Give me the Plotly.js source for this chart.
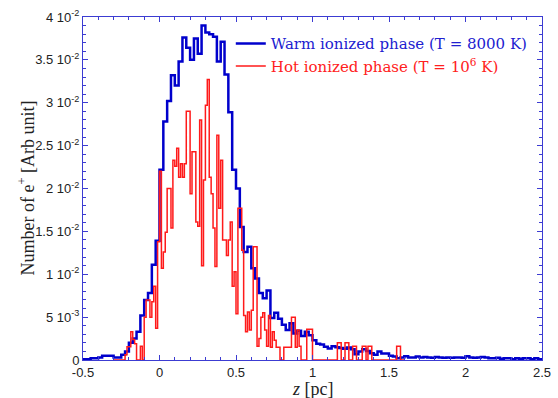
<!DOCTYPE html>
<html><head><meta charset="utf-8">
<script src="https://cdn.plot.ly/plotly-3.0.1.min.js"></script>
<style>html,body{margin:0;padding:0;background:#fff}#chart{width:558px;height:398px}</style>
</head><body><div id="chart"></div>
<script>
// Warm ionized phase histogram: bins of 0.025 pc starting at z = -0.5
const warmStart = -0.5;
const warmWidth = 0.025;
const warmValues = [
  0.0001,0.0001,0.0002,0.0002,0.0003,0.0005,0.0005,0.0005,0.0003,0.0003,
  0.0006,0.0010,0.0020,0.0025,0.0033,0.0052,0.0070,0.0078,0.0111,0.0139,
  0.0222,0.0278,0.0302,0.0332,0.0320,0.0348,0.0376,0.0364,0.0350,0.0375,
  0.0357,0.0390,0.0382,0.0380,0.0377,0.0348,0.0371,0.0333,0.0289,0.0222,
  0.0200,0.0155,0.0126,0.0132,0.0107,0.0095,0.0078,0.0072,0.0081,0.0049,
  0.0055,0.0048,0.0041,0.0035,0.0043,0.0031,0.0034,0.0028,0.0033,0.0029,
  0.0023,0.0019,0.0018,0.00155,0.00135,0.0016,0.0015,0.0014,0.0013,0.00145,
  0.00125,0.00066,0.0010,0.00125,0.00105,0.0008,0.0006,0.0010,0.00075,0.00075,
  0.0005,0.0004,0.0002,0.0003,0.00045,0.0003,0.0003,0.0004,0.0003,0.00035,
  0.0003,0.00025,0.00035,0.0003,0.00025,0.0003,0.00025,0.0003,0.0003,0.00025,
  0.00045,0.0003,0.00025,0.0003,0.00035,0.0003,0.0002,0.0002,0.00025,0.00015,
  0.0002,0.0002,0.0001,0.0002,0.00015,0.0002,0.0002,0.0001,0.0002,0.0001
];
// Hot ionized phase histogram: bins of 0.0125 pc starting at z = -0.3
const hotStart = -0.3;
const hotWidth = 0.0125;
const hotValues = [
  0,0,0,0,0,0,0.0006,0.00155,0.00155,0.0033,
  0.0024,0.0019,0,0,0.0016,0,0.0050,0.0070,0.0070,0.0050,
  0.0068,0.0086,0.0037,0.0138,0.0220,0.0107,0.0126,0.0149,0.0200,0.0200,
  0.0154,0.0233,0.0226,0.0247,0.0213,0.0229,0.0213,0.0229,0.0290,0.0290,
  0.0194,0.0243,0.0243,0.0161,0.0156,0.0280,0.0110,0.0210,0.0297,0.0327,
  0.0213,0.0194,0.0154,0.0109,0.0262,0.0177,0.0233,0.0140,0.0140,0.0122,
  0.0140,0.0161,0.0086,0.0103,0.0054,0.0177,0.0177,0.0128,0.0052,0.0033,
  0.0056,0.0035,0.0058,0.0132,0.0132,0.0016,0.0025,0.0050,0.0055,0.0035,
  0.0016,0.0052,0.0015,0.0033,0.0023,0.0015,0.0015,0,0,0.0015,
  0.0015,0.0015,0.0015,0.0050,0.0050,0.0015,0.0035,0.0016,0,0,
  0,0.0036,0.0036,0.0036,0,0,0,0,0,0,
  0,0,0,0,0,0,0,0.0020,0.0020,0,
  0,0.0020,0.0020,0,0,0.0016,0.0016,0,0,0,
  0.0016,0.0016,0,0.0016,0.0016,0,0,0,0,0,
  0,0,0,0,0,0,0,0,0.0016,0.0016,
  0,0
];
const yTickVals = [0,0.005,0.01,0.015,0.02,0.025,0.03,0.035,0.04];
const yTickText = ['0','5 10<sup>-3</sup>','1 10<sup>-2</sup>','1.5 10<sup>-2</sup>','2 10<sup>-2</sup>',
  '2.5 10<sup>-2</sup>','3 10<sup>-2</sup>','3.5 10<sup>-2</sup>','4 10<sup>-2</sup>'];
const xTickVals = [-0.5,0,0.5,1,1.5,2,2.5];
const xTickText = ['-0.5','0','0.5','1','1.5','2','2.5'];

function steps(start, width, vals) {
  const x = [], y = [];
  vals.forEach((v, i) => { x.push(start + i * width); y.push(v); });
  x.push(start + vals.length * width); y.push(vals[vals.length - 1]);
  return {x, y};
}
const w = steps(warmStart, warmWidth, warmValues);
const h = steps(hotStart, hotWidth, hotValues);

const axisColor = '#3c3cd2';
const serif = 'Liberation Serif, Times New Roman, serif';
const traces = [
  {x: w.x, y: w.y, type: 'scatter', mode: 'lines', line: {shape: 'hv', color: '#0000cc', width: 2.5},
   name: '<span style="color:#2020d0">Warm ionized phase (T = 8000 K)</span>', hoverinfo: 'skip'},
  {x: h.x, y: h.y, type: 'scatter', mode: 'lines', line: {shape: 'hv', color: '#ff1a1a', width: 1.5},
   name: '<span style="color:#ff2020">Hot ionized phase (T = 10<sup>6</sup> K)</span>', hoverinfo: 'skip'}
];
const tickFont = {family: 'Liberation Sans, Arial, sans-serif', size: 13, color: '#222'};
const layout = {
  width: 558, height: 398,
  margin: {l: 83, r: 16, t: 17, b: 38},
  paper_bgcolor: '#fff', plot_bgcolor: '#fff',
  showlegend: true,
  legend: {x: 0.322, y: 0.97, xanchor: 'left', yanchor: 'top', bgcolor: 'rgba(0,0,0,0)',
    font: {family: 'DejaVu Serif, serif', size: 15}, itemwidth: 30, tracegroupgap: 0},
  xaxis: {range: [-0.5, 2.5], tickmode: 'array', tickvals: xTickVals, ticktext: xTickText,
    ticks: 'inside', ticklen: 5, tickcolor: axisColor, tickwidth: 1,
    minor: {ticks: 'inside', dtick: 0.1, tick0: 0, ticklen: 3, tickcolor: axisColor, showgrid: false},
    showline: true, linecolor: axisColor, linewidth: 1, mirror: 'ticks',
    showgrid: false, zeroline: false, tickfont: tickFont},
  yaxis: {range: [0, 0.04], tickmode: 'array', tickvals: yTickVals, ticktext: yTickText,
    ticks: 'inside', ticklen: 5, tickcolor: axisColor, tickwidth: 1,
    minor: {ticks: 'inside', dtick: 0.001, tick0: 0, ticklen: 3, tickcolor: axisColor, showgrid: false},
    showline: true, linecolor: axisColor, linewidth: 1, mirror: 'ticks',
    showgrid: false, zeroline: false, tickfont: tickFont},
  annotations: [
    {text: 'Number of e<sup>+</sup> [Arb unit]', xref: 'paper', yref: 'paper',
     x: 0, y: 0.5, xanchor: 'center', yanchor: 'middle', xshift: -56, textangle: -90,
     showarrow: false, font: {family: serif, size: 18, color: '#222'}},
    {text: '<i>z</i> [pc]', xref: 'paper', yref: 'paper',
     x: 0.5, y: 0, xanchor: 'center', yanchor: 'middle', yshift: -29,
     showarrow: false, font: {family: serif, size: 18, color: '#222'}}
  ]
};
Plotly.newPlot('chart', traces, layout, {displayModeBar: false, staticPlot: true});
</script>
</body></html>
